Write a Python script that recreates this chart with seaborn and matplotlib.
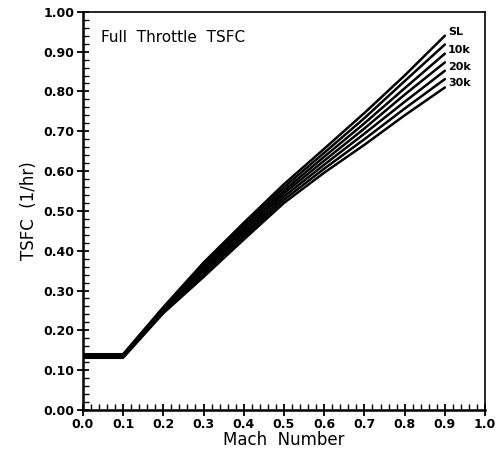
import pandas as pd
import seaborn as sns
import matplotlib.pyplot as plt
from matplotlib.ticker import MultipleLocator

# Mach number points and TSFC (1/hr) per altitude
mach = [0.0, 0.1, 0.2, 0.3, 0.4, 0.5, 0.6, 0.7, 0.8, 0.9]
altitudes = ["SL", "5k", "10k", "15k", "20k", "25k", "30k"]
tsfc_sl = [0.140, 0.140, 0.258, 0.370, 0.470, 0.567, 0.656, 0.746, 0.840, 0.940]
tsfc_5k = [0.138, 0.138, 0.256, 0.364, 0.463, 0.559, 0.646, 0.733, 0.826, 0.918]
tsfc_10k = [0.137, 0.137, 0.254, 0.358, 0.456, 0.551, 0.636, 0.720, 0.808, 0.895]
tsfc_15k = [0.136, 0.136, 0.252, 0.352, 0.449, 0.544, 0.626, 0.707, 0.792, 0.873]
tsfc_20k = [0.134, 0.134, 0.249, 0.346, 0.442, 0.536, 0.616, 0.694, 0.774, 0.852]
tsfc_25k = [0.133, 0.133, 0.246, 0.340, 0.435, 0.528, 0.606, 0.680, 0.757, 0.831]
tsfc_30k = [0.131, 0.131, 0.243, 0.334, 0.428, 0.520, 0.596, 0.666, 0.740, 0.810]
labelled = ["SL", "10k", "20k", "30k"]

series = [tsfc_sl, tsfc_5k, tsfc_10k, tsfc_15k, tsfc_20k, tsfc_25k, tsfc_30k]
df = pd.concat(
    [pd.DataFrame({"Mach": mach, "TSFC": vals, "alt": alt}) for alt, vals in zip(altitudes, series)],
    ignore_index=True,
)

sns.set_style("ticks")
plt.rcParams["font.family"] = ["DejaVu Sans"]
plt.rcParams["text.color"] = "black"
plt.rcParams["axes.labelcolor"] = "black"

fig = plt.figure(figsize=(4.96, 4.55), dpi=100)
ax = fig.add_axes([0.167, 0.099, 0.811, 0.875])

sns.lineplot(data=df, x="Mach", y="TSFC", hue="alt", palette=["black"] * len(altitudes),
             linewidth=1.8, legend=False, ax=ax)

# labels at the end of selected lines
for alt, vals in zip(altitudes, series):
    if alt in labelled:
        ax.text(mach[-1] + 0.008, vals[-1] + 0.01, alt, fontsize=8, fontweight="bold",
                ha="left", va="center")

ax.text(0.045, 0.935, "Full  Throttle  TSFC", fontsize=11, ha="left", va="center")

ax.set_xlim(0, 1.0)
ax.set_ylim(0, 1.0)
ax.xaxis.set_major_locator(MultipleLocator(0.1))
ax.xaxis.set_minor_locator(MultipleLocator(0.02))
ax.yaxis.set_major_locator(MultipleLocator(0.1))
ax.yaxis.set_minor_locator(MultipleLocator(0.02))
ax.set_xticklabels([f"{v:.1f}" for v in ax.get_xticks()])
ax.set_yticklabels([f"{v:.2f}" for v in ax.get_yticks()])
ax.tick_params(which="major", direction="inout", length=8, width=1.3, labelsize=9, pad=2,
               color="black", labelcolor="black")
ax.tick_params(which="minor", direction="in", length=4, width=1.0, color="black")
ax.tick_params(top=False, right=False, bottom=True, left=True, which="both")
for lbl in ax.get_xticklabels() + ax.get_yticklabels():
    lbl.set_fontweight("bold")

for side in ["left", "bottom"]:
    ax.spines[side].set_linewidth(1.8)
for side in ["top", "right"]:
    ax.spines[side].set_visible(True)
    ax.spines[side].set_linewidth(1.2)
for sp in ax.spines.values():
    sp.set_color("black")

ax.set_xlabel("Mach  Number", fontsize=12, labelpad=0)
ax.set_ylabel("TSFC  (1/hr)", fontsize=12, labelpad=4)

fig.savefig("out.png", dpi=100)
